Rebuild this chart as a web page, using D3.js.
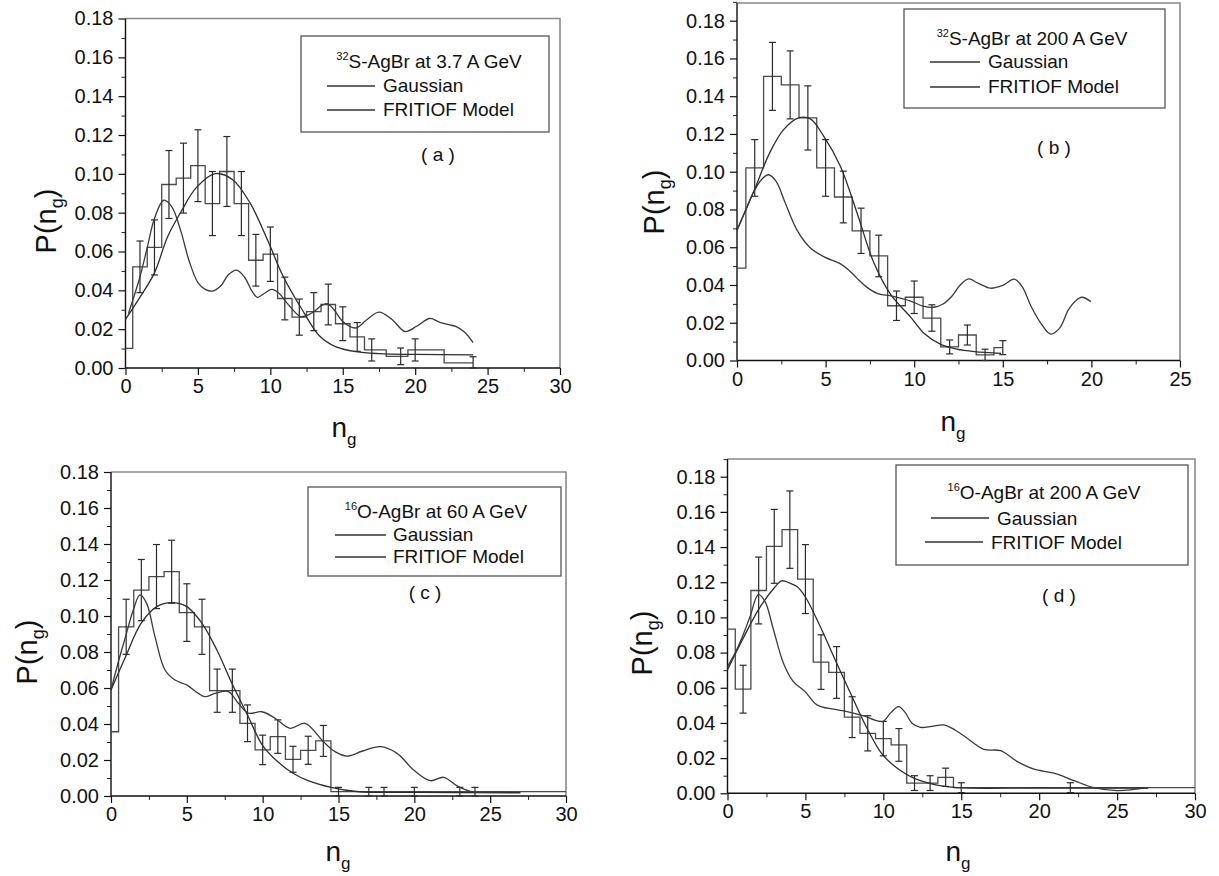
<!DOCTYPE html>
<html><head><meta charset="utf-8">
<script src="https://cdn.jsdelivr.net/npm/d3@7"></script>
<style>
body{margin:0;background:#fff}
svg{display:block}
text{font-family:"Liberation Sans",Arial,sans-serif;fill:#111}
</style>
</head><body>
<svg id="chart" width="1219" height="876"></svg>
<script>
// ---------- DATA ----------
// histogram bins: [from, to, P(ng)]
const histA = [[0,0.5,0.0101],[0.5,1.5,0.0521],[1.5,2.5,0.0621],[2.5,3.5,0.0945],[3.5,4.5,0.0978],[4.5,5.5,0.1042],[5.5,6.5,0.0847],[6.5,7.5,0.1012],[7.5,8.5,0.0847],[8.5,9.5,0.0555],[9.5,10.5,0.0586],[10.5,11.5,0.0358],[11.5,12.5,0.0262],[12.5,13.5,0.0290],[13.5,14.5,0.0327],[14.5,15.5,0.0228],[15.5,16.5,0.0160],[16.5,18,0.0093],[18,19.5,0.0060],[19.5,22,0.0093],[22,24,0.0026]];
// error bars: [ng, P, error]
const errA = [[1,0.0521,0.0133],[2,0.0621,0.0142],[3,0.0945,0.0175],[4,0.0978,0.018],[5,0.1042,0.0185],[6,0.0847,0.0165],[7,0.1012,0.018],[8,0.0847,0.0165],[9,0.0555,0.0133],[10,0.0586,0.014],[11,0.0358,0.011],[12,0.0262,0.0093],[13,0.0290,0.0098],[14,0.0327,0.0105],[15,0.0228,0.0087],[16,0.0160,0.0074],[17,0.0093,0.0057],[19,0.0060,0.0043],[20,0.0093,0.0057],[24,0.0026,0.0032]];
const gaussA = [[0,0.025],[1,0.0365],[2,0.049],[2.9,0.0675],[3.8,0.08],[4.9,0.093],[6.2,0.1001],[7.4,0.097],[8.6,0.085],[9.8,0.066],[10.9,0.047],[12.2,0.030],[13.4,0.0165],[14.5,0.011],[15.9,0.0084],[17.5,0.0074],[20,0.0070],[24,0.0068]];
const fritA = [[0.2,0.028],[1,0.047],[1.5,0.062],[2,0.077],[2.64,0.0864],[3.2,0.083],[3.8,0.071],[4.4,0.055],[5,0.044],[5.5,0.0405],[6,0.0396],[6.6,0.0425],[7.1,0.048],[7.66,0.0504],[8.2,0.047],[8.7,0.040],[9.1,0.0364],[9.6,0.0385],[10.1,0.0405],[10.6,0.0385],[11.2,0.033],[12.07,0.0265],[12.5,0.027],[13,0.029],[13.5,0.032],[13.93,0.0331],[14.4,0.030],[15,0.024],[15.9,0.0206],[16.6,0.0245],[17.5,0.0288],[18.4,0.025],[19.3,0.0188],[20.1,0.0215],[21,0.0255],[21.7,0.0235],[22.3,0.0223],[22.8,0.0214],[23.4,0.0185],[24,0.0131]];

const histB = [[0,0.5,0.0489],[0.5,1.5,0.102],[1.5,2.5,0.1505],[2.5,3.5,0.146],[3.5,4.5,0.1285],[4.5,5.5,0.102],[5.5,6.5,0.0866],[6.5,7.5,0.0687],[7.5,8.5,0.0554],[8.5,9.5,0.029],[9.5,10.5,0.0335],[10.5,11.5,0.0225],[11.5,12.5,0.0072],[12.5,13.5,0.0135],[13.5,14.5,0.003],[14.5,15,0.0068]];
const errB = [[1,0.102,0.015],[2,0.1505,0.018],[3,0.146,0.018],[4,0.1285,0.017],[5,0.102,0.015],[6,0.0866,0.0137],[7,0.0687,0.012],[8,0.0554,0.011],[9,0.029,0.0078],[10,0.0335,0.0086],[11,0.0225,0.007],[12,0.0072,0.0037],[13,0.0135,0.0053],[14,0.003,0.003],[15,0.0068,0.0037]];
const gaussB = [[0,0.069],[0.92,0.089],[1.87,0.1105],[2.62,0.1222],[3.47,0.1285],[4.14,0.128],[4.9,0.1187],[5.84,0.1028],[6.78,0.078],[7.73,0.0516],[8.67,0.035],[9.8,0.023],[10.6,0.014],[11.5,0.0085],[12.4,0.006],[13.4,0.0047],[14.9,0.0038]];
const fritB = [[0,0.069],[0.5,0.08],[0.92,0.089],[1.4,0.096],[1.77,0.0984],[2.2,0.095],[2.7,0.084],[3.38,0.0692],[4.1,0.060],[4.89,0.055],[5.84,0.0512],[6.3,0.048],[6.78,0.0435],[7.3,0.039],[7.9,0.0356],[8.8,0.034],[9.8,0.0315],[10.5,0.0288],[11.1,0.0282],[11.6,0.0298],[12.1,0.0338],[12.6,0.040],[13.07,0.0432],[13.6,0.041],[14.3,0.0383],[15,0.0398],[15.65,0.0431],[16.1,0.039],[16.6,0.0286],[17.2,0.019],[17.7,0.014],[18.2,0.017],[18.7,0.0268],[19.1,0.0315],[19.46,0.0335],[19.97,0.0312]];

const histC = [[0,0.5,0.0357],[0.5,1.5,0.094],[1.5,2.5,0.1144],[2.5,3.5,0.1219],[3.5,4.5,0.1246],[4.5,5.5,0.1019],[5.5,6.5,0.094],[6.5,7.5,0.0585],[7.5,8.5,0.0585],[8.5,9.5,0.0404],[9.5,10.5,0.0256],[10.5,11.5,0.033],[11.5,12.5,0.0204],[12.5,13.5,0.0254],[13.5,14.5,0.0306],[14.5,30,0.0024]];
const errC = [[1,0.094,0.0153],[2,0.1144,0.017],[3,0.1219,0.0178],[4,0.1246,0.0175],[5,0.1019,0.016],[6,0.094,0.0153],[7,0.0585,0.012],[8,0.0585,0.012],[9,0.0404,0.0102],[10,0.0256,0.0082],[11,0.033,0.0093],[12,0.0204,0.0072],[13,0.0254,0.0078],[14,0.0306,0.0086],[15,0.0024,0.0024],[17,0.0024,0.0024],[18,0.0024,0.0024],[20,0.0024,0.0024],[23,0.0024,0.0024],[24,0.0024,0.0024]];
const gaussC = [[0,0.0589],[0.96,0.0774],[1.98,0.0959],[3.02,0.1052],[4.0,0.1074],[5,0.1052],[5.99,0.096],[6.98,0.0811],[7.97,0.0626],[9.0,0.045],[10.0,0.028],[11.0,0.019],[12.0,0.0126],[13,0.0085],[14.5,0.0048],[16.2,0.0025],[20,0.002],[27,0.0018]];
const fritC = [[0,0.0589],[0.5,0.075],[0.96,0.0885],[1.47,0.1033],[1.91,0.1117],[2.35,0.107],[2.9,0.0885],[3.56,0.07],[4.22,0.0644],[4.99,0.0617],[5.76,0.057],[6.2,0.0552],[6.86,0.057],[7.74,0.058],[8.4,0.0515],[9.06,0.046],[9.94,0.0468],[10.82,0.0432],[11.8,0.0376],[12.8,0.0404],[14.0,0.0302],[14.8,0.0245],[15.57,0.0222],[16.6,0.025],[17.76,0.0274],[18.86,0.0237],[19.96,0.0144],[21.06,0.0085],[21.94,0.0104],[22.82,0.0056],[23.7,0.0026],[25,0.0022],[26,0.0022]];

const histD = [[0,0.5,0.0933],[0.5,1.5,0.0592],[1.5,2.5,0.1153],[2.5,3.5,0.1404],[3.5,4.5,0.1499],[4.5,5.5,0.1218],[5.5,6.5,0.0746],[6.5,7.5,0.0687],[7.5,8.5,0.0433],[8.5,9.5,0.0341],[9.5,10.5,0.0311],[10.5,11.5,0.0275],[11.5,12.5,0.0058],[12.5,13.5,0.0058],[13.5,14.5,0.0091],[14.5,30,0.0032]];
const errD = [[1,0.0592,0.0136],[2,0.1153,0.019],[3,0.1404,0.021],[4,0.1499,0.022],[5,0.1218,0.0196],[6,0.0746,0.0155],[7,0.0687,0.0147],[8,0.0433,0.0116],[9,0.0341,0.010],[10,0.0311,0.0098],[11,0.0275,0.0093],[12,0.0058,0.0042],[13,0.0058,0.0042],[14,0.0091,0.0052],[15,0.0032,0.0028],[22,0.0032,0.0028]];
const gaussD = [[0,0.0702],[0.96,0.0873],[1.98,0.1043],[2.99,0.1167],[3.48,0.1208],[4.0,0.1195],[4.45,0.1176],[4.98,0.1119],[5.95,0.0948],[6.96,0.0749],[7.99,0.055],[8.95,0.037],[9.96,0.0218],[10.98,0.0137],[11.99,0.0085],[13.45,0.0047],[14.74,0.0032],[20,0.003],[27,0.003]];
const fritD = [[0,0.072],[0.5,0.08],[1.0,0.090],[1.45,0.1005],[1.98,0.1129],[2.41,0.109],[2.95,0.093],[3.59,0.074],[4.23,0.0635],[4.98,0.0578],[5.74,0.0503],[6.8,0.0478],[7.67,0.0465],[8.74,0.044],[9.5,0.0415],[9.96,0.0408],[10.5,0.046],[10.98,0.0493],[11.4,0.046],[11.84,0.0398],[12.38,0.0375],[13.1,0.038],[13.88,0.0389],[14.6,0.036],[15.38,0.0313],[16.45,0.025],[17.52,0.0242],[18.6,0.018],[19.67,0.0137],[20.95,0.0114],[22.24,0.0072],[23.52,0.0032],[25.0,0.0015],[26.96,0.0032]];

const yTicks = [0,0.02,0.04,0.06,0.08,0.10,0.12,0.14,0.16,0.18];
const xTicks30 = [0,5,10,15,20,25,30];
const xTicks25 = [0,5,10,15,20,25];
const legendTitles = [["32","S-AgBr at 3.7 A GeV"],["32","S-AgBr at 200 A GeV"],["16","O-AgBr at 60 A GeV"],["16","O-AgBr at 200 A GeV"]];
const seriesNames = ["Gaussian","FRITIOF Model"];
const panelTags = ["( a )","( b )","( c )","( d )"];

// ---------- LAYOUT ----------
const panels = [
 {hist:histA, err:errA, gauss:gaussA, frit:fritA, xMax:30, xt:xTicks30,
  xr:[125.5,560], y0:368, y18:18.5, top:18.5,
  ytitle:[56,221], xtitle:[344,437],
  box:[301,36,248,96], title:[429,68], gl:[327,375,86,383,92], fl:[327,375,110,383,116], tag:[438,161]},
 {hist:histB, err:errB, gauss:gaussB, frit:fritB, xMax:25, xt:xTicks25,
  xr:[737,1180], y0:360.5, y18:20.7, top:3,
  ytitle:[664,202], xtitle:[953,431],
  box:[904,9,261,99], title:[1032,45], gl:[930,980,62,988,68], fl:[930,980,87,988,93], tag:[1054,154]},
 {hist:histC, err:errC, gauss:gaussC, frit:fritC, xMax:30, xt:xTicks30,
  xr:[111,566], y0:796, y18:472, top:472,
  ytitle:[37,652], xtitle:[338,861],
  box:[308,487,253,89], title:[436,518], gl:[335,386,535,393,541], fl:[335,386,557,393,563], tag:[425,599]},
 {hist:histD, err:errD, gauss:gaussD, frit:fritD, xMax:30, xt:xTicks30,
  xr:[727.5,1195], y0:793.3, y18:476.7, top:459,
  ytitle:[652,643], xtitle:[958,861],
  box:[896,465,292,100], title:[1044,499], gl:[931,989,518,997,525], fl:[925,983,542,991,549], tag:[1059,602]}
];

const svg = d3.select("#chart");
const curve = d3.curveCatmullRom.alpha(0.5);

panels.forEach((p, i) => {
  const x = d3.scaleLinear().domain([0, p.xMax]).range(p.xr);
  const y = d3.scaleLinear().domain([0, 0.18]).range([p.y0, p.y18]);
  const g = svg.append("g");

  // frame (top/right)
  g.append("path")
    .attr("d", `M${p.xr[0]},${p.top}H${p.xr[1]}V${p.y0}`)
    .attr("fill","none").attr("stroke","#8a8a8a").attr("stroke-width",1.6);

  // minor ticks
  const minorY = d3.range(0.01, 0.18, 0.02);
  if (p.top < p.y18 - 5) minorY.push(0.19);
  g.append("g").attr("transform",`translate(${p.xr[0]},0)`)
    .call(d3.axisLeft(y).tickValues(minorY).tickSize(4).tickFormat(""))
    .call(s=>s.select(".domain").remove())
    .selectAll("line").attr("stroke","#222");
  const minorX = d3.range(2.5, p.xMax, 5);
  g.append("g").attr("transform",`translate(0,${p.y0})`)
    .call(d3.axisBottom(x).tickValues(minorX).tickSize(4).tickFormat(""))
    .call(s=>s.select(".domain").remove())
    .selectAll("line").attr("stroke","#222");

  // major axes
  const ya = g.append("g").attr("transform",`translate(${p.xr[0]},0)`)
    .call(d3.axisLeft(y).tickValues(yTicks).tickSize(7).tickPadding(5).tickFormat(d3.format(".2f")));
  ya.select(".domain").attr("d", `M0,${p.y0}V${p.top}`).attr("stroke","#111").attr("stroke-width",1.4);
  ya.selectAll("line").attr("stroke","#111").attr("stroke-width",1.2);
  ya.selectAll("text").attr("font-size",20).attr("font-family","Liberation Sans, Arial, sans-serif").attr("fill","#111");

  const xa = g.append("g").attr("transform",`translate(0,${p.y0})`)
    .call(d3.axisBottom(x).tickValues(p.xt).tickSize(7).tickPadding(4).tickFormat(d3.format("d")));
  xa.select(".domain").attr("d", `M${p.xr[0]},0H${p.xr[1]}`).attr("stroke","#111").attr("stroke-width",1.4);
  xa.selectAll("line").attr("stroke","#111").attr("stroke-width",1.2);
  xa.selectAll("text").attr("font-size",20).attr("font-family","Liberation Sans, Arial, sans-serif").attr("fill","#111");

  // histogram (step)
  const pts = [];
  p.hist.forEach(b => { pts.push([b[0], b[2]]); pts.push([b[1], b[2]]); });
  g.append("path").datum(pts)
    .attr("d", d3.line().x(d=>x(d[0])).y(d=>y(d[1])))
    .attr("fill","none").attr("stroke","#4a4a4a").attr("stroke-width",1.3);

  // error bars
  const eb = g.append("g").attr("stroke","#2a2a2a").attr("stroke-width",1.2);
  p.err.forEach(e => {
    const lo = Math.max(0, e[1]-e[2]), hi = e[1]+e[2];
    const cx = x(e[0]);
    eb.append("line").attr("x1",cx).attr("x2",cx).attr("y1",y(lo)).attr("y2",y(hi));
    eb.append("line").attr("x1",cx-3.5).attr("x2",cx+3.5).attr("y1",y(hi)).attr("y2",y(hi));
    eb.append("line").attr("x1",cx-3.5).attr("x2",cx+3.5).attr("y1",y(lo)).attr("y2",y(lo));
  });

  // curves
  const line = d3.line().x(d=>x(d[0])).y(d=>y(d[1])).curve(curve);
  g.append("path").datum(p.gauss).attr("d", line)
    .attr("fill","none").attr("stroke","#2e2e2e").attr("stroke-width",1.3);
  g.append("path").datum(p.frit).attr("d", line)
    .attr("fill","none").attr("stroke","#3a3a3a").attr("stroke-width",1.3);

  // axis titles
  const yt = g.append("text")
    .attr("transform",`translate(${p.ytitle[0]},${p.ytitle[1]}) rotate(-90)`)
    .attr("text-anchor","middle").attr("font-size",29);
  yt.append("tspan").text("P(n");
  yt.append("tspan").attr("font-size",18).attr("dy",7).text("g");
  yt.append("tspan").attr("dy",-7).text(")");

  const xtl = g.append("text").attr("x",p.xtitle[0]).attr("y",p.xtitle[1])
    .attr("text-anchor","middle").attr("font-size",28);
  xtl.append("tspan").text("n");
  xtl.append("tspan").attr("font-size",17).attr("dy",8).text("g");

  // legend
  g.append("rect").attr("x",p.box[0]).attr("y",p.box[1]).attr("width",p.box[2]).attr("height",p.box[3])
    .attr("fill","#fff").attr("stroke","#555").attr("stroke-width",1.3);
  const tt = g.append("text").attr("x",p.title[0]).attr("y",p.title[1])
    .attr("text-anchor","middle").attr("font-size",19);
  tt.append("tspan").attr("font-size",11).attr("dy",-8).text(legendTitles[i][0]);
  tt.append("tspan").attr("dy",8).text(legendTitles[i][1]);

  [[p.gl, seriesNames[0]],[p.fl, seriesNames[1]]].forEach(([l, name]) => {
    g.append("line").attr("x1",l[0]).attr("x2",l[1]).attr("y1",l[2]).attr("y2",l[2])
      .attr("stroke","#333").attr("stroke-width",1.3);
    g.append("text").attr("x",l[3]).attr("y",l[4]).attr("font-size",19).text(name);
  });

  g.append("text").attr("x",p.tag[0]).attr("y",p.tag[1]).attr("text-anchor","middle")
    .attr("font-size",19).attr("xml:space","preserve").text(panelTags[i]);
});
</script>
</body></html>
